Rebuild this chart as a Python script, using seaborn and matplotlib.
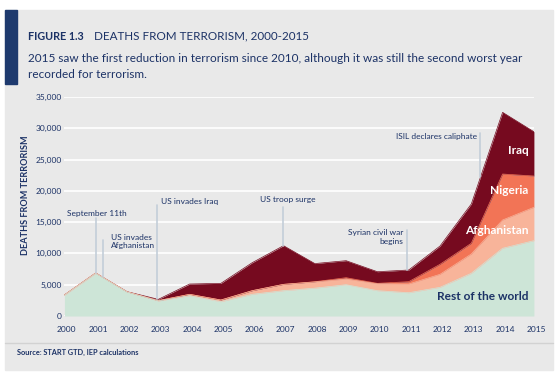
import matplotlib

matplotlib.use("Agg")
import matplotlib.pyplot as plt
import matplotlib.transforms as mtransforms
import numpy as np
import pandas as pd
import seaborn as sns
from matplotlib.lines import Line2D
from matplotlib.patches import Rectangle

# Deaths from terrorism by country
YEARS = list(range(2000, 2016))
REST_OF_WORLD = [3300, 6800, 3830, 2400, 3250, 2290, 3470, 4050,
                 4450, 5000, 4050, 3720, 4580, 6820, 10820, 12040]
AFGHANISTAN = [60, 70, 40, 60, 220, 270, 580, 1010,
               1000, 900, 1100, 1390, 2080, 3090, 4520, 5330]
NIGERIA = [0, 0, 0, 0, 0, 0, 0, 0,
           30, 220, 70, 370, 1600, 1710, 7350, 5000]
IRAQ = [0, 0, 20, 200, 1640, 2660, 4470, 6180,
        2900, 2720, 1860, 1870, 2920, 6280, 9860, 7080]

SERIES = ["Rest of the world", "Afghanistan", "Nigeria", "Iraq"]
COLORS = ["#cde5d7", "#f8b49a", "#f27456", "#760a1f"]

# Events: label, year of the marker line, top of the marker line
EVENTS = ["September 11th", "US invades\nAfghanistan", "US invades Iraq",
          "US troop surge", "Syrian civil war\nbegins", "ISIL declares caliphate"]
EVENT_YEARS = [2001.0, 2001.23, 2002.96, 2007.0, 2010.94, 2013.29]
EVENT_TOPS = [15700, 12150, 17740, 17420, 13740, 29240]

NAVY = "#1c3266"
PANEL = "#e9e9e9"

sns.set_theme(style="white")
plt.rcParams["font.family"] = ["Lato", "DejaVu Sans"]

data = pd.DataFrame(
    {"Year": YEARS, SERIES[0]: REST_OF_WORLD, SERIES[1]: AFGHANISTAN,
     SERIES[2]: NIGERIA, SERIES[3]: IRAQ}
)
stacked = data[SERIES].cumsum(axis=1)
stacked["Year"] = data["Year"]
total = stacked[SERIES[-1]].to_numpy()

fig = plt.figure(figsize=(5.6, 3.82), dpi=100, facecolor="white")
W, H = 560, 382

# grey panel, title bar and separator
fig.patches.append(Rectangle((5 / W, 1 - 370 / H), 548 / W, 360 / H,
                             transform=fig.transFigure, color=PANEL, zorder=-2))
fig.patches.append(Rectangle((5 / W, 1 - 84 / H), 12 / W, 74 / H,
                             transform=fig.transFigure, color="#1e3a6e", zorder=-1))
fig.lines.append(Line2D([5 / W, 553 / W], [1 - 342.5 / H] * 2,
                        transform=fig.transFigure, color="#d2d2d2", lw=1, zorder=-1))

fig.text(28.5 / W, 1 - 36 / H, "FIGURE 1.3", fontsize=7.75, fontweight="bold",
         color=NAVY, va="center")
fig.text(94 / W, 1 - 36 / H, "DEATHS FROM TERRORISM, 2000-2015", fontsize=8.35,
         color=NAVY, va="center")
fig.text(28.5 / W, 1 - 59 / H,
         "2015 saw the first reduction in terrorism since 2010, although it was still the second worst year",
         fontsize=8.45, color=NAVY, va="center")
fig.text(28.5 / W, 1 - 75 / H, "recorded for terrorism.", fontsize=8.45,
         color=NAVY, va="center")
fig.text(16.7 / W, 1 - 352 / H, "Source: START GTD, IEP calculations",
         fontsize=5.35, fontweight="bold", color=NAVY, va="center")

ax = fig.add_axes([64.4 / W, 1 - 316 / H, 469.5 / W, 219 / H])
ax.set_facecolor("none")
ax.set_zorder(1)

lower = np.zeros(len(YEARS))
for name, color in zip(SERIES, COLORS):
    upper = stacked[name].to_numpy()
    ax.fill_between(YEARS, lower, upper, color=color, lw=0, zorder=2)
    lower = upper

# thin top edges, lower layers last so thin bands stay visible on top
for name, color in reversed(list(zip(SERIES, COLORS))):
    sns.lineplot(data=stacked, x="Year", y=name, color=color, lw=0.5,
                 ax=ax, zorder=2.5, legend=False)

# event markers
for label, year, top in zip(EVENTS, EVENT_YEARS, EVENT_TOPS):
    bottom = np.interp(year, YEARS, total)
    ax.plot([year, year], [bottom, top], color="#c3ced9", lw=1.2, zorder=3)

text_kw = dict(fontsize=6.0, color=NAVY, zorder=4, linespacing=1.3)
ax.text(2001.03, 16450, EVENTS[0], ha="center", va="center", **text_kw)
ax.text(2001.49, 11900, EVENTS[1], ha="left", va="center", **text_kw)
ax.text(2003.09, 18220, EVENTS[2], ha="left", va="center", **text_kw)
ax.text(2007.13, 18540, EVENTS[3], ha="center", va="center", **text_kw)
ax.text(2010.82, 12620, EVENTS[4], ha="right", va="center", **text_kw)
ax.text(2013.19, 28760, EVENTS[5], ha="right", va="center", **text_kw)

label_kw = dict(fontsize=8.6, fontweight="bold", ha="right", va="center", zorder=4)
ax.text(2014.82, 26370, "Iraq", color="white", **label_kw)
ax.text(2014.82, 20130, "Nigeria", color="white", **label_kw)
ax.text(2014.82, 13740, "Afghanistan", color="white", **label_kw)
ax.text(2014.82, 3040, "Rest of the world", color=NAVY, **label_kw)

ax.set_xlim(2000, 2015)
ax.set_ylim(0, 35000)
ax.set_xticks(YEARS)
ax.set_yticks(range(0, 35001, 5000))
ax.set_yticklabels([f"{v:,}" for v in range(0, 35001, 5000)])
ax.yaxis.grid(True, color="white", lw=1.2, zorder=1)
ax.set_axisbelow(True)
ax.tick_params(axis="both", length=0, labelsize=6.0, labelcolor=NAVY)
ax.tick_params(axis="y", pad=2)
ax.tick_params(axis="x", pad=7)
shift = mtransforms.ScaledTranslation(2.3 / 100, 0, fig.dpi_scale_trans)
for tick in ax.get_xticklabels():
    tick.set_transform(tick.get_transform() + shift)
for side in ax.spines.values():
    side.set_visible(False)

ax.set_xlabel("")
ax.set_ylabel("DEATHS FROM TERRORISM", fontsize=6.6, fontweight="bold", color=NAVY)
ax.yaxis.set_label_coords(-0.073, 0.55)

fig.savefig("out.png", dpi=100)
